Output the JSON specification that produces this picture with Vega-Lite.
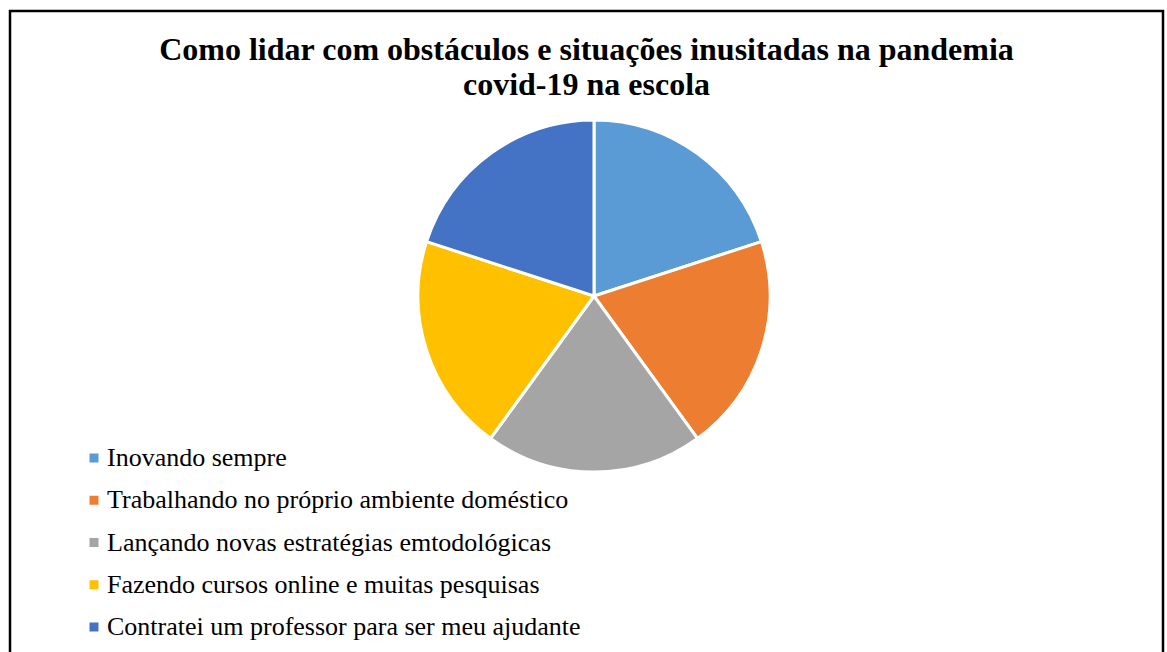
{
  "$schema": "https://vega.github.io/schema/vega-lite/v6.json",
  "autosize": "none",
  "width": 1153,
  "height": 660,
  "padding": {"left": 10, "top": 11, "right": 4, "bottom": 0},
  "background": "white",
  "view": {"stroke": "black", "strokeWidth": 2.5, "fill": "white"},
  "config": {
    "view": {"stroke": "black", "strokeWidth": 2.5},
    "font": "Liberation Serif"
  },
  "title": {
    "text": ["Como lidar com obstáculos e situações inusitadas na pandemia", "covid-19 na escola"],
    "font": "Liberation Serif",
    "fontSize": 32,
    "fontWeight": "bold",
    "color": "black",
    "anchor": "middle",
    "frame": "group",
    "lineHeight": 35,
    "baseline": "alphabetic",
    "offset": -116
  },
  "data": {
    "values": [
      {"categoria": "Inovando sempre", "valor": 20, "ordem": 1},
      {"categoria": "Trabalhando no próprio ambiente doméstico", "valor": 20, "ordem": 2},
      {"categoria": "Lançando novas estratégias emtodológicas", "valor": 20, "ordem": 3},
      {"categoria": "Fazendo cursos online e muitas pesquisas", "valor": 20, "ordem": 4},
      {"categoria": "Contratei um professor para ser meu ajudante", "valor": 20, "ordem": 5}
    ]
  },
  "layer": [
    {
      "mark": {"type": "arc", "radius": 176, "stroke": "white", "strokeWidth": 3, "xOffset": 7.5, "yOffset": -45},
      "encoding": {
        "theta": {"field": "valor", "type": "quantitative", "stack": true},
        "order": {"field": "ordem", "type": "quantitative"},
        "color": {
          "field": "categoria",
          "type": "nominal",
          "scale": {
            "domain": ["Inovando sempre", "Trabalhando no próprio ambiente doméstico", "Lançando novas estratégias emtodológicas", "Fazendo cursos online e muitas pesquisas", "Contratei um professor para ser meu ajudante"],
            "range": ["#5B9BD5", "#ED7D31", "#A5A5A5", "#FFC000", "#4472C4"]
          },
          "legend": {
            "title": null,
            "orient": "none",
            "legendX": 71,
            "legendY": 434,
            "symbolType": "square",
            "symbolSize": 81,
            "symbolStrokeWidth": 0,
            "labelFont": "Liberation Serif",
            "labelFontSize": 26,
            "labelColor": "black",
            "labelOffset": 0,
            "labelLimit": 0,
            "rowPadding": 16.25,
            "padding": 0
          }
        }
      }
    }
  ]
}
